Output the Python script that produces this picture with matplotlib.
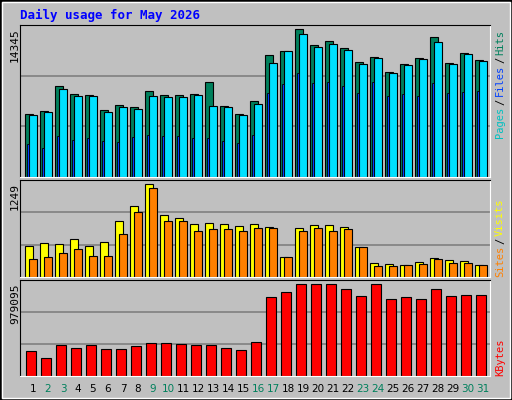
import matplotlib
matplotlib.use("Agg")
import matplotlib.pyplot as plt
import numpy as np

days = list(range(1, 32))
weekend = [2, 3, 9, 10, 16, 17, 23, 24, 30, 31]
hits = [6152, 6444, 8775, 7998, 7901, 6541, 7027, 6832, 8290, 7901, 7901, 7998, 9164, 6930, 6152, 7318,
        11787, 12175, 14345, 12758, 13147, 12467, 11107, 11592, 10135, 10912, 11495, 13535, 11009, 11981, 11301]
files = [6055, 6347, 8484, 7804, 7804, 6347, 6832, 6638, 7804, 7707, 7707, 7901, 6930, 6832, 6055, 7124,
         11009, 12175, 13827, 12564, 12855, 12272, 10912, 11495, 10038, 10815, 11398, 13049, 10912, 11884, 11204]
pages = [3238, 2850, 4015, 3627, 3821, 3530, 3432, 3918, 4112, 4015, 4015, 3821, 3821, 3530, 3335, 4112,
         8095, 8969, 10038, 9067, 9164, 8775, 8095, 9164, 7804, 7998, 7804, 9067, 8095, 8192, 8290]
sites = [421, 462, 448, 516, 421, 475, 747, 950, 1249, 828, 787, 706, 719, 706, 679, 706,
         665, 272, 652, 692, 692, 665, 407, 190, 176, 163, 204, 258, 231, 217, 163]
visits = [244, 272, 326, 380, 285, 285, 584, 869, 1195, 747, 747, 624, 638, 638, 624, 652,
          652, 272, 624, 652, 624, 638, 407, 149, 149, 163, 176, 244, 190, 190, 163]
kbytes = [268950, 193650, 333500, 301200, 333500, 290500, 290500, 322700, 355000, 355000, 344300, 333500,
          333500, 301200, 279700, 365800, 839100, 892900, 979095, 979095, 979095, 925200, 849900, 979095,
          817600, 839100, 817600, 925200, 849900, 860600, 860600]

BG = "#C0C0C0"
W, H = 512, 400
fig = plt.figure(figsize=(5.12, 4.0), dpi=100, facecolor=BG)

# outer frame
fig.patches.append(plt.Rectangle((0, 0), 1, 1, transform=fig.transFigure, fill=False, ec="black", lw=2))
fig.patches.append(plt.Rectangle((2/W, 2/H), 1-4/W, 1-4/H, transform=fig.transFigure, fill=False, ec="white", lw=1))

def panel(top, bottom, vmax, frac):
    ax = fig.add_axes([20/W, (H-bottom)/H, 470/W, (bottom-top)/H])
    ax.set_facecolor(BG)
    ax.set_xlim(-5/15, 470/15 - 5/15)
    ax.set_ylim(0, vmax/frac)
    ax.set_xticks([]); ax.set_yticks([])
    for s in ["left", "top"]:
        ax.spines[s].set_color("black")
    for s in ["right", "bottom"]:
        ax.spines[s].set_color("white")
    for f in (1/3, 2/3):
        ax.axhline(vmax/frac*f, color="#808080", lw=1.2, zorder=0)
    return ax

x = np.arange(31)
mono = "DejaVu Sans Mono"

ax1 = panel(25, 177, 14345, 148/152)
ax1.bar(x, hits, width=8/15, align="edge", color="#00805C", ec="black", lw=0.8)
ax1.bar(x+4/15, files, width=8/15, align="edge", color="#00E0FF", ec="black", lw=0.8)
ax1.bar(x+2/15, pages, width=2/15, align="edge", color="#0040FF", ec="black", lw=0.6)

ax2 = panel(180, 277, 1249, 93/97)
ax2.bar(x, sites, width=8/15, align="edge", color="#FFFF00", ec="black", lw=0.8)
ax2.bar(x+4/15, visits, width=8/15, align="edge", color="#FF8000", ec="black", lw=0.8)

ax3 = panel(280, 376, 979095, 92/96)
ax3.bar(x+1/15, kbytes, width=10/15, align="edge", color="#FF0000", ec="black", lw=0.8)

fig.text(20/W, 1-15/H, "Daily usage for May 2026", color="#0000FF", family=mono,
         fontweight="bold", fontsize=9, va="center")

for yy, val in [(28, "14345"), (183, "1249"), (283, "979095")]:
    fig.text(15/W, 1-yy/H, val, rotation=90, ha="center", va="top", fontsize=8, family=mono)

renderer = fig.canvas.get_renderer()

def right_label(parts, ybot):
    y = ybot
    for txt, col in parts:
        t = fig.text(500/W, 1-y/H, txt, rotation=90, ha="center", va="bottom",
                     fontsize=7.5, family=mono, color=col)
        y -= t.get_window_extent(renderer).height + 2

right_label([("Pages", "#00C0C0"), ("/", "black"), ("Files", "#0040FF"), ("/", "black"), ("Hits", "#00805C")], 138)
right_label([("Sites", "#FF8000"), ("/", "black"), ("Visits", "#FFFF00")], 277)
right_label([("KBytes", "#FF0000")], 376)

for d in days:
    fig.text((25 + (d-1)*15 + 8)/W, 1-389/H, str(d), ha="center", va="center", fontsize=7.5,
             color="#00805C" if d in weekend else "black")

fig.savefig("out.png", dpi=100, facecolor=BG)
